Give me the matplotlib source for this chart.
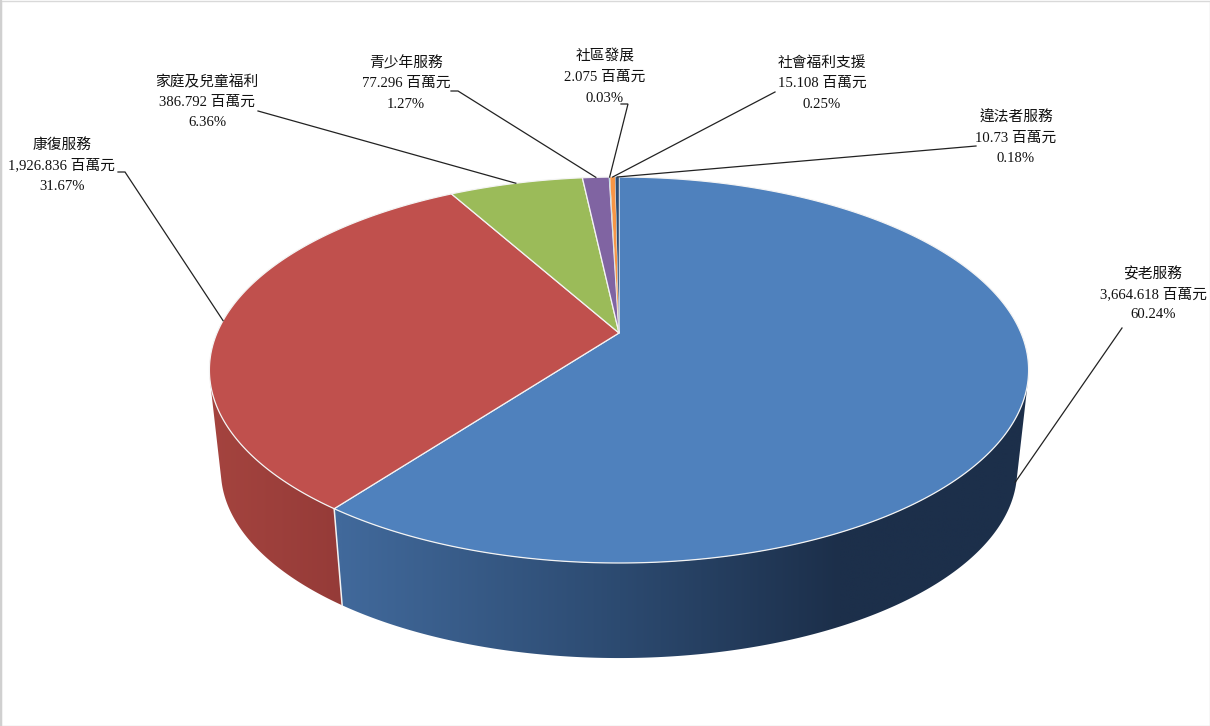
import numpy as np
import matplotlib
matplotlib.use("Agg")
import matplotlib.pyplot as plt
from matplotlib.colors import to_rgb
from matplotlib.patches import Polygon, Rectangle

categories = ["安老服務", "康復服務", "家庭及兒童福利", "青少年服務", "社區發展", "社會福利支援", "違法者服務"]
values = [3664.618, 1926.836, 386.792, 77.296, 2.075, 15.108, 10.73]
unit = "百萬元"
colors = ["#4f81bd", "#c0504d", "#9bbb59", "#8064a2", "#4bacc6", "#f79646", "#2c4d75"]
# side gradient stops for visible walls: (pixel x, colour)
side_stops = {
    0: [(342, "#41699b"), (620, "#2c4a70"), (840, "#1c2f4a"), (1030, "#1c2f4a")],
    1: [(205, "#a5443f"), (342, "#953b38")],
}
label_centres = [(1153, 294), (62, 165), (207, 102), (406, 83), (605, 77), (822, 83), (1016, 138)]
leader_starts = [(1122, 328), (118, 172), (258, 111), (451, 91), (621, 104), (775, 92), (976, 146)]
leader_hooks = [0, 7, 0, 7, 7, 0, 0]
leader_depths = [0.87, 0, 0, 0, 0, 0, 0]

FONT = ["Liberation Serif", "Noto Sans CJK TC"]
CX, CY = 619.0, 333.0
A, D, C = 185.9, 402.0, 0.1917   # projective circle -> image
DEPTH, SHRINK = 101.5, 0.028


def project(theta, depth=0.0):
    """theta: clockwise radians from 12 o'clock; depth: 0 top face, 1 bottom rim."""
    u, v = np.sin(theta), np.cos(theta)
    w = 1 + C * v
    s = 1 - SHRINK * depth
    return CX + s * D * u / w, CY + DEPTH * depth - s * A * v / w


vals = np.asarray(values)
total = vals.sum()
edges = np.concatenate([[0], np.cumsum(vals)]) / total * 2 * np.pi
mids = (edges[:-1] + edges[1:]) / 2

fig = plt.figure(figsize=(12.1, 7.26), dpi=100, facecolor="white")
ax = fig.add_axes([0, 0, 1, 1])
ax.axis("off")
ax.add_patch(Rectangle((0.5, 0.5), 1209, 725, fill=False, ec="#d9d9d9", lw=1.0))
ax.plot([0.8, 0.8], [0, 726], color="#d0d0d0", lw=1.6)


def wall_is_front(t):
    """True where the wall below the rim lies outside the top face, as seen in the image."""
    x0, y0 = project(t, 0)
    x1, y1 = project(t + 1e-3, 0)
    bx, by = project(t, 1)
    return (x1 - x0) * (by - y0) - (y1 - y0) * (bx - x0) < 0


# walls: each visible one is a gradient clipped to its outline
for i, stops in side_stops.items():
    t = np.linspace(edges[i], edges[i + 1], 1500)
    t = t[wall_is_front(t)]
    tx, ty = project(t, 0)
    bx, by = project(t, 1)
    outline = np.column_stack([np.r_[tx, bx[::-1]], np.r_[ty, by[::-1]]])
    x0, x1 = outline[:, 0].min() - 2, outline[:, 0].max() + 2
    y0, y1 = outline[:, 1].min() - 2, outline[:, 1].max() + 2
    gx = np.linspace(x0, x1, 512)
    sx = [p[0] for p in stops]
    sc = np.array([to_rgb(p[1]) for p in stops])
    grad = np.stack([np.interp(gx, sx, sc[:, k]) for k in range(3)], axis=-1)[None, :, :]
    patch = Polygon(outline, closed=True, fc="none", ec="none", transform=ax.transData)
    ax.add_patch(patch)
    im = ax.imshow(grad, extent=(x0, x1, y1, y0), aspect="auto", zorder=2, interpolation="bilinear")
    im.set_clip_path(patch)

ax.set_xlim(0, 1210)
ax.set_ylim(726, 0)

# light seam where the two large slices meet on the front wall
sx0, sy0 = project(edges[1], 0)
sx1, sy1 = project(edges[1], 1)
ax.plot([sx0, sx1], [sy0, sy1], color="#f2f2f2", lw=1.1, zorder=3)

# top face; very thin slices get a finer outline so their colour survives
for i in range(len(vals)):
    n = max(int((edges[i + 1] - edges[i]) / 0.004), 2)
    t = np.linspace(edges[i], edges[i + 1], n + 1)
    x, y = project(t, 0)
    pts = np.column_stack([np.r_[CX, x], np.r_[CY, y]])
    thin = vals[i] / total < 0.005
    ax.add_patch(Polygon(pts, closed=True, fc=colors[i], ec="#f4f4f4", lw=0.25 if thin else 0.9,
                         zorder=4, joinstyle="round"))

# labels and leaders
for i, name in enumerate(categories):
    cx, cy = label_centres[i]
    lines = [name, f"{values[i]:,} {unit}", f"{values[i] / total * 100:.2f}%"]
    for j, line in enumerate(lines):
        ax.text(cx, cy + 0.5 + (j - 1) * 20.5, line, ha="center", va="center", fontsize=10.6,
                family=FONT, color="#111111", zorder=6)
    sx, sy = leader_starts[i]
    ex, ey = project(mids[i], leader_depths[i])
    ax.plot([sx, sx + leader_hooks[i], ex], [sy, sy, ey],
            color="#222222", lw=0.9, zorder=5, solid_joinstyle="miter")

fig.savefig("out.png", dpi=100, facecolor="white")
